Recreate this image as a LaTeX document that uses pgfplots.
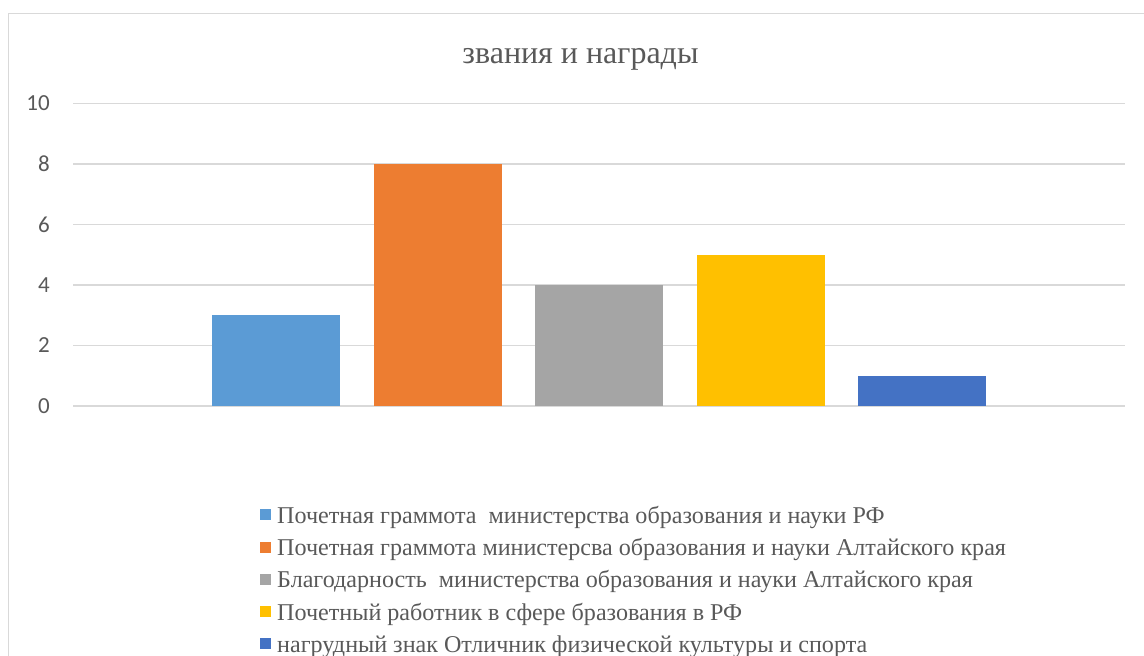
\documentclass[border=0pt]{standalone}
\usepackage{pgfplots}
\pgfplotsset{compat=1.18}
\usepackage{fontspec}
\setmainfont{Liberation Serif}
\newfontfamily\tickfont{Carlito}
\definecolor{c1}{HTML}{5B9BD5}
\definecolor{c2}{HTML}{ED7D31}
\definecolor{c3}{HTML}{A5A5A5}
\definecolor{c4}{HTML}{FFC000}
\definecolor{c5}{HTML}{4472C4}
\definecolor{txt}{HTML}{595959}
\definecolor{gridc}{HTML}{D9D9D9}
\begin{document}
\begin{tikzpicture}[x=1pt,y=1pt]
\useasboundingbox (0,0) rectangle (1144,656);
\draw[gridc, line width=1.5pt] (8.5,-30) rectangle (1170,642.5);
\node[anchor=base, font=\fontsize{32}{38}\selectfont, text=txt] at (580.5,592) {звания и награды};
\begin{axis}[
  at={(73pt,250pt)}, anchor=south west,
  scale only axis, width=1052pt, height=302.5pt,
  xmin=-0.257, xmax=6.257, ymin=0, ymax=10,
  ytick={0,2,4,6,8,10}, xtick=\empty,
  axis line style={draw=none},
  ymajorgrids, grid style={gridc, line width=1.5pt},
  major tick length=0pt,
  /pgf/number format/assume math mode=true,
  yticklabel style={font=\tickfont\fontsize{23}{27}\selectfont, text=txt, anchor=east, inner sep=0pt, xshift=-23pt},
  ybar, bar width=0.7926,
  legend style={at={(0.1778,-0.334)}, anchor=north west, draw=none, fill=none,
    inner sep=0pt, row sep=11.3pt,
    font=\fontsize{24.1}{28}\selectfont, text=txt,
    nodes={inner sep=0pt, text height=16pt, text depth=5pt}},
  legend cell align=left,
  legend image code/.code={\fill[#1] (0pt,-2.5pt) rectangle (11pt,8.5pt); \path (17pt,0pt);},
]
\addplot[fill=c1, draw=none, bar shift=0pt] coordinates {(1,3)};
\addplot[fill=c2, draw=none, bar shift=0pt] coordinates {(2,8)};
\addplot[fill=c3, draw=none, bar shift=0pt] coordinates {(3,4)};
\addplot[fill=c4, draw=none, bar shift=0pt] coordinates {(4,5)};
\addplot[fill=c5, draw=none, bar shift=0pt] coordinates {(5,1)};
\legend{Почетная граммота\ \ министерства образования и науки РФ,
Почетная граммота министерсва образования и науки Алтайского края,
Благодарность\ \ министерства образования и науки Алтайского края,
Почетный работник в сфере бразования в РФ,
нагрудный знак Отличник физической культуры и спорта}
\end{axis}
\end{tikzpicture}
\end{document}
